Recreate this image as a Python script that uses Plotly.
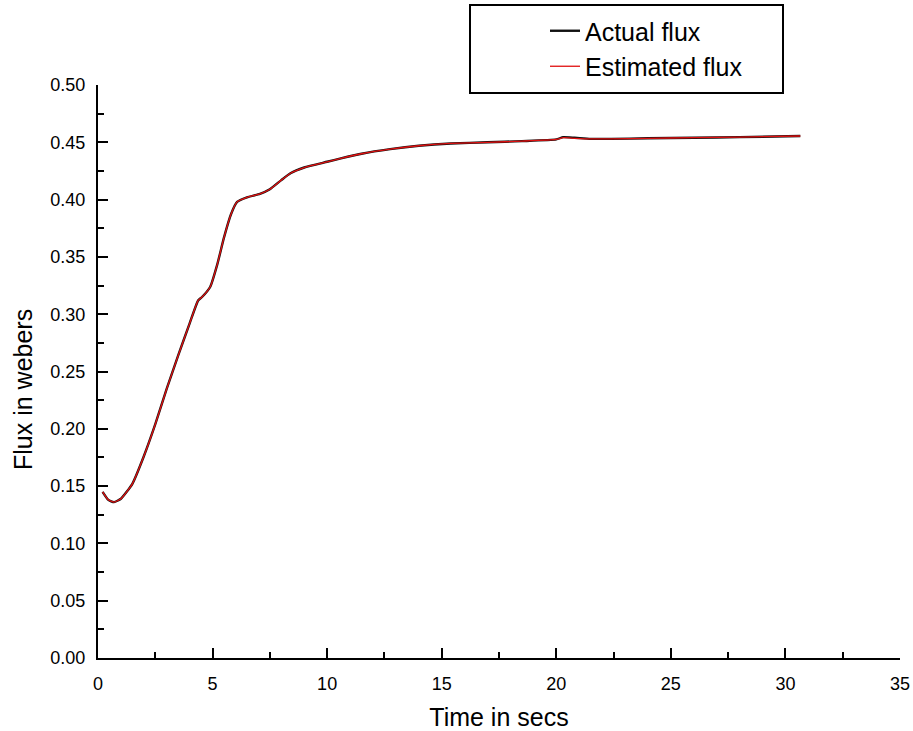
import plotly.graph_objects as go

time_s = [0.2, 0.45, 0.7, 1.0, 1.5, 2.0, 2.5, 3.0, 3.5, 4.0, 4.37, 4.54, 4.9, 5.2, 5.5, 5.8,
          6.07, 6.5, 7.07, 7.5, 8.0, 8.4, 9.0, 10.0, 10.6, 11.5, 12.75, 14.0, 15.4, 17.0,
          18.5, 20.0, 20.3, 20.8, 21.5, 22.4, 24.0, 26.0, 28.0, 30.65]
actual_flux = [0.145, 0.138, 0.136, 0.139, 0.152, 0.176, 0.204, 0.235, 0.264, 0.292, 0.312,
               0.315, 0.324, 0.343, 0.367, 0.387, 0.398, 0.402, 0.405, 0.409, 0.417, 0.423,
               0.428, 0.433, 0.436, 0.440, 0.444, 0.447, 0.449, 0.450, 0.451, 0.4525, 0.4545,
               0.4540, 0.453, 0.453, 0.4535, 0.454, 0.4545, 0.4555]
estimated_flux = [0.145, 0.138, 0.136, 0.139, 0.152, 0.176, 0.204, 0.235, 0.264, 0.292, 0.312,
                  0.315, 0.324, 0.343, 0.367, 0.387, 0.398, 0.402, 0.405, 0.409, 0.417, 0.423,
                  0.428, 0.433, 0.436, 0.440, 0.444, 0.447, 0.449, 0.450, 0.451, 0.4525, 0.4540,
                  0.4535, 0.453, 0.453, 0.4535, 0.454, 0.4545, 0.4555]
x_ticks = [0, 5, 10, 15, 20, 25, 30, 35]
y_ticks = [0, 0.05, 0.1, 0.15, 0.2, 0.25, 0.3, 0.35, 0.4, 0.45, 0.5]

FONT = "Liberation Sans, Arial, sans-serif"
L, R, T, B = 98, 13, 85, 73
W, H = 913, 731
PW, PH = W - L - R, H - T - B

fig = go.Figure()
fig.add_trace(go.Scatter(x=time_s, y=actual_flux, mode="lines", name="Actual flux",
                         legendgroup="a",
                         line=dict(color="#111111", width=2.4, shape="spline", smoothing=0.5)))
fig.add_trace(go.Scatter(x=time_s, y=estimated_flux, mode="lines", name="Estimated flux",
                         legendgroup="b",
                         line=dict(color="#e01010", width=1.3, shape="spline", smoothing=0.5)))

axis_common = dict(showgrid=False, zeroline=False, showline=True, linecolor="black",
                   linewidth=2, ticks="inside", tickcolor="black", ticklen=10, tickwidth=2,
                   tickfont=dict(family=FONT, size=18, color="black"), mirror=False,
                   automargin=False)

fig.update_xaxes(range=[0, 35], tickvals=x_ticks, ticktext=[str(v) for v in x_ticks],
                 ticklabelstandoff=8,
                 minor=dict(dtick=2.5, tick0=0, ticks="inside", ticklen=6, tickwidth=2,
                            tickcolor="black"),
                 title=dict(text="Time in secs", font=dict(family=FONT, size=25, color="black"),
                            standoff=16),
                 **axis_common)
fig.update_yaxes(range=[0, 0.5], tickvals=y_ticks, ticktext=[f"{v:.2f}" for v in y_ticks],
                 ticklabelstandoff=7,
                 minor=dict(dtick=0.025, tick0=0, ticks="inside", ticklen=6, tickwidth=2,
                            tickcolor="black"),
                 **axis_common)

fig.add_annotation(text="Flux in webers", xref="paper", yref="paper",
                   x=(23 - L) / PW, y=(H - B - 390) / PH, xanchor="center", yanchor="middle",
                   textangle=-90, showarrow=False,
                   font=dict(family=FONT, size=25, color="black"))

fig.add_shape(type="rect", xref="paper", yref="paper",
              x0=(470 - L) / PW, x1=(783 - L) / PW,
              y0=1 + (T - 93) / PH, y1=1 + (T - 5) / PH,
              line=dict(color="black", width=2), fillcolor="rgba(0,0,0,0)")

fig.update_layout(
    width=W, height=H,
    margin=dict(l=L, r=R, t=T, b=B, autoexpand=False),
    paper_bgcolor="white", plot_bgcolor="white",
    font=dict(family=FONT, color="black"),
    showlegend=True,
    legend=dict(x=(545 - L) / PW, y=1 + (T - 8) / PH, xanchor="left", yanchor="top",
                bgcolor="rgba(0,0,0,0)", borderwidth=0,
                font=dict(family=FONT, size=25, color="black"), tracegroupgap=0),
)

fig.write_html("out.html", config={"displayModeBar": False},
               post_script="document.body.style.margin='0';document.body.style.padding='0';")
